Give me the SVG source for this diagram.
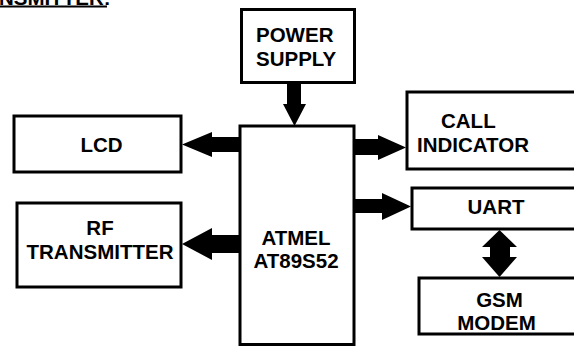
<svg xmlns="http://www.w3.org/2000/svg" width="574" height="347" viewBox="0 0 574 347">
<style>
.box{fill:#fff;stroke:#000;stroke-width:3}
.t{font-family:"Liberation Sans",Arial,sans-serif;font-weight:bold;font-size:20.5px;fill:#000}
.m{text-anchor:middle}
.arr{fill:#000}
</style>
<rect width="574" height="347" fill="#fff"/>
<text class="t" x="-1" y="4.5">NSMITTER:</text>
<rect x="0" y="5.5" width="107" height="2" fill="#000"/>
<g id="power"><rect class="box" x="241.5" y="9.5" width="113" height="73"/><text class="t" x="256" y="42">POWER</text><text class="t" x="256" y="66">SUPPLY</text></g>
<g id="atmel"><rect class="box" x="240" y="126" width="114" height="218.5"/><text class="t m" x="296" y="245">ATMEL</text><text class="t m" x="296" y="268">AT89S52</text></g>
<g id="lcd"><rect class="box" x="14" y="116" width="167" height="56"/><text class="t m" x="101.5" y="152">LCD</text></g>
<g id="rf"><rect class="box" x="17" y="203" width="164" height="84"/><text class="t m" x="100" y="235">RF</text><text class="t m" x="100" y="259">TRANSMITTER</text></g>
<g id="call"><rect class="box" x="407" y="92" width="170" height="77"/><text class="t" x="441" y="128">CALL</text><text class="t" x="417" y="152">INDICATOR</text></g>
<g id="uart"><rect class="box" x="412" y="188" width="165" height="41"/><text class="t m" x="496" y="214">UART</text></g>
<g id="gsm"><rect class="box" x="419" y="278" width="158" height="56"/><text class="t m" x="499.5" y="307">GSM</text><text class="t m" x="496.5" y="330">MODEM</text></g>
<g id="connectors" class="arr">
<polygon points="287,81 301,81 301,104 306,104 294.5,126 283,104 287,104"/>
<polygon points="240,137 212,137 212,132 182,144.5 212,157 212,152 240,152"/>
<polygon points="240,235 212,235 212,228 182,244 212,260 212,253 240,253"/>
<polygon points="354,139 378,139 378,135 406,147.5 378,160 378,155 354,155"/>
<polygon points="354,199 382,199 382,193 411,206.5 382,220 382,213 354,213"/>
<polygon points="499.5,230 517,247 510,247 510,257 517,257 499.5,277 482,257 490,257 490,247 482,247"/>
</g>
</svg>
